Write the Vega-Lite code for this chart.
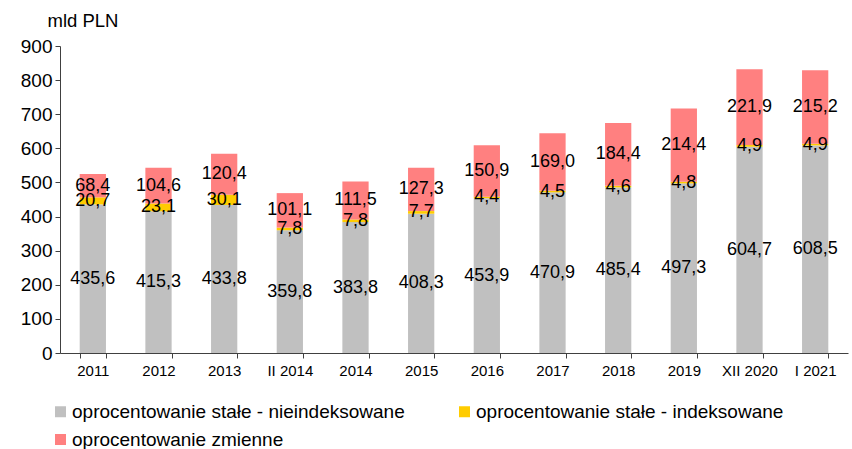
{
  "$schema": "https://vega.github.io/schema/vega-lite/v6.json",
  "width": 788,
  "height": 307,
  "autosize": {"type": "none"},
  "padding": {"left": 60, "top": 46, "right": 4, "bottom": 96},
  "config": {
    "view": {"stroke": null},
    "font": "Liberation Sans",
    "locale": {"number": {"decimal": ",", "thousands": " ", "grouping": [3], "currency": ["", " zł"]}},
    "axisY": {
      "title": "mld PLN",
      "titleAngle": 0,
      "titleAlign": "left",
      "titleBaseline": "middle",
      "titleX": -13,
      "titleY": -26,
      "titleFontSize": 18.5,
      "titleFontWeight": "normal",
      "titleColor": "#000000",
      "grid": false,
      "labelFontSize": 19,
      "labelColor": "#000000",
      "labelPadding": 3,
      "labelOverlap": false,
      "tickSize": 5,
      "tickColor": "#404040",
      "domainColor": "#404040"
    }
  },
  "data": {
    "values": [
      {"okres": "2011", "seria": "oprocentowanie stałe - nieindeksowane", "s": 1, "v": 435.6},
      {"okres": "2012", "seria": "oprocentowanie stałe - nieindeksowane", "s": 1, "v": 415.3},
      {"okres": "2013", "seria": "oprocentowanie stałe - nieindeksowane", "s": 1, "v": 433.8},
      {"okres": "II 2014", "seria": "oprocentowanie stałe - nieindeksowane", "s": 1, "v": 359.8},
      {"okres": "2014", "seria": "oprocentowanie stałe - nieindeksowane", "s": 1, "v": 383.8},
      {"okres": "2015", "seria": "oprocentowanie stałe - nieindeksowane", "s": 1, "v": 408.3},
      {"okres": "2016", "seria": "oprocentowanie stałe - nieindeksowane", "s": 1, "v": 453.9},
      {"okres": "2017", "seria": "oprocentowanie stałe - nieindeksowane", "s": 1, "v": 470.9},
      {"okres": "2018", "seria": "oprocentowanie stałe - nieindeksowane", "s": 1, "v": 485.4},
      {"okres": "2019", "seria": "oprocentowanie stałe - nieindeksowane", "s": 1, "v": 497.3},
      {"okres": "XII 2020", "seria": "oprocentowanie stałe - nieindeksowane", "s": 1, "v": 604.7},
      {"okres": "I 2021", "seria": "oprocentowanie stałe - nieindeksowane", "s": 1, "v": 608.5},
      {"okres": "2011", "seria": "oprocentowanie stałe - indeksowane", "s": 2, "v": 20.7},
      {"okres": "2012", "seria": "oprocentowanie stałe - indeksowane", "s": 2, "v": 23.1},
      {"okres": "2013", "seria": "oprocentowanie stałe - indeksowane", "s": 2, "v": 30.1},
      {"okres": "II 2014", "seria": "oprocentowanie stałe - indeksowane", "s": 2, "v": 7.8},
      {"okres": "2014", "seria": "oprocentowanie stałe - indeksowane", "s": 2, "v": 7.8},
      {"okres": "2015", "seria": "oprocentowanie stałe - indeksowane", "s": 2, "v": 7.7},
      {"okres": "2016", "seria": "oprocentowanie stałe - indeksowane", "s": 2, "v": 4.4},
      {"okres": "2017", "seria": "oprocentowanie stałe - indeksowane", "s": 2, "v": 4.5},
      {"okres": "2018", "seria": "oprocentowanie stałe - indeksowane", "s": 2, "v": 4.6},
      {"okres": "2019", "seria": "oprocentowanie stałe - indeksowane", "s": 2, "v": 4.8},
      {"okres": "XII 2020", "seria": "oprocentowanie stałe - indeksowane", "s": 2, "v": 4.9},
      {"okres": "I 2021", "seria": "oprocentowanie stałe - indeksowane", "s": 2, "v": 4.9},
      {"okres": "2011", "seria": "oprocentowanie zmienne", "s": 3, "v": 68.4},
      {"okres": "2012", "seria": "oprocentowanie zmienne", "s": 3, "v": 104.6},
      {"okres": "2013", "seria": "oprocentowanie zmienne", "s": 3, "v": 120.4},
      {"okres": "II 2014", "seria": "oprocentowanie zmienne", "s": 3, "v": 101.1},
      {"okres": "2014", "seria": "oprocentowanie zmienne", "s": 3, "v": 111.5},
      {"okres": "2015", "seria": "oprocentowanie zmienne", "s": 3, "v": 127.3},
      {"okres": "2016", "seria": "oprocentowanie zmienne", "s": 3, "v": 150.9},
      {"okres": "2017", "seria": "oprocentowanie zmienne", "s": 3, "v": 169.0},
      {"okres": "2018", "seria": "oprocentowanie zmienne", "s": 3, "v": 184.4},
      {"okres": "2019", "seria": "oprocentowanie zmienne", "s": 3, "v": 214.4},
      {"okres": "XII 2020", "seria": "oprocentowanie zmienne", "s": 3, "v": 221.9},
      {"okres": "I 2021", "seria": "oprocentowanie zmienne", "s": 3, "v": 215.2}
    ]
  },
  "encoding": {
    "x": {
      "field": "okres",
      "type": "nominal",
      "sort": null,
      "scale": {"paddingInner": 0.6, "paddingOuter": 0.3},
      "axis": {
        "title": null,
        "labelAngle": 0,
        "labelFontSize": 15,
        "labelColor": "#000000",
        "labelPadding": 5,
        "tickBand": "extent",
        "tickSize": 5,
        "tickColor": "#404040",
        "domainColor": "#404040"
      }
    }
  },
  "layer": [
    {
      "mark": {"type": "bar"},
      "encoding": {
        "y": {
          "field": "v",
          "type": "quantitative",
          "stack": "zero",
          "scale": {"domain": [0, 900], "nice": false},
          "axis": {"title": "mld PLN", "values": [0, 100, 200, 300, 400, 500, 600, 700, 800, 900], "format": "d"}
        },
        "color": {
          "field": "seria",
          "type": "nominal",
          "scale": {
            "domain": ["oprocentowanie stałe - nieindeksowane", "oprocentowanie stałe - indeksowane", "oprocentowanie zmienne"],
            "range": ["#C0C0C0", "#FFCC00", "#FF8080"]
          },
          "legend": {
            "title": null,
            "orient": "none",
            "legendX": -9,
            "legendY": 356,
            "direction": "horizontal",
            "columns": 2,
            "columnPadding": 50,
            "rowPadding": 8,
            "symbolType": "square",
            "symbolSize": 121,
            "symbolStrokeWidth": 0,
            "labelFontSize": 19,
            "labelColor": "#000000",
            "labelOffset": 2,
            "labelLimit": 420
          }
        },
        "order": {"field": "s", "type": "quantitative"}
      }
    },
    {
      "transform": [
        {"stack": "v", "groupby": ["okres"], "sort": [{"field": "s", "order": "ascending"}], "as": ["v0", "v1"]},
        {"fold": ["v0", "v1"], "as": ["koniec", "pos"]}
      ],
      "mark": {"type": "text", "fontSize": 18, "color": "#000000", "baseline": "middle"},
      "encoding": {
        "y": {
          "field": "pos",
          "type": "quantitative",
          "aggregate": "mean",
          "axis": {"title": "mld PLN", "values": [0, 100, 200, 300, 400, 500, 600, 700, 800, 900], "format": "d"}
        },
        "detail": {"field": "seria", "type": "nominal"},
        "text": {"field": "v", "type": "quantitative", "aggregate": "min", "format": ".1f"}
      }
    }
  ]
}
